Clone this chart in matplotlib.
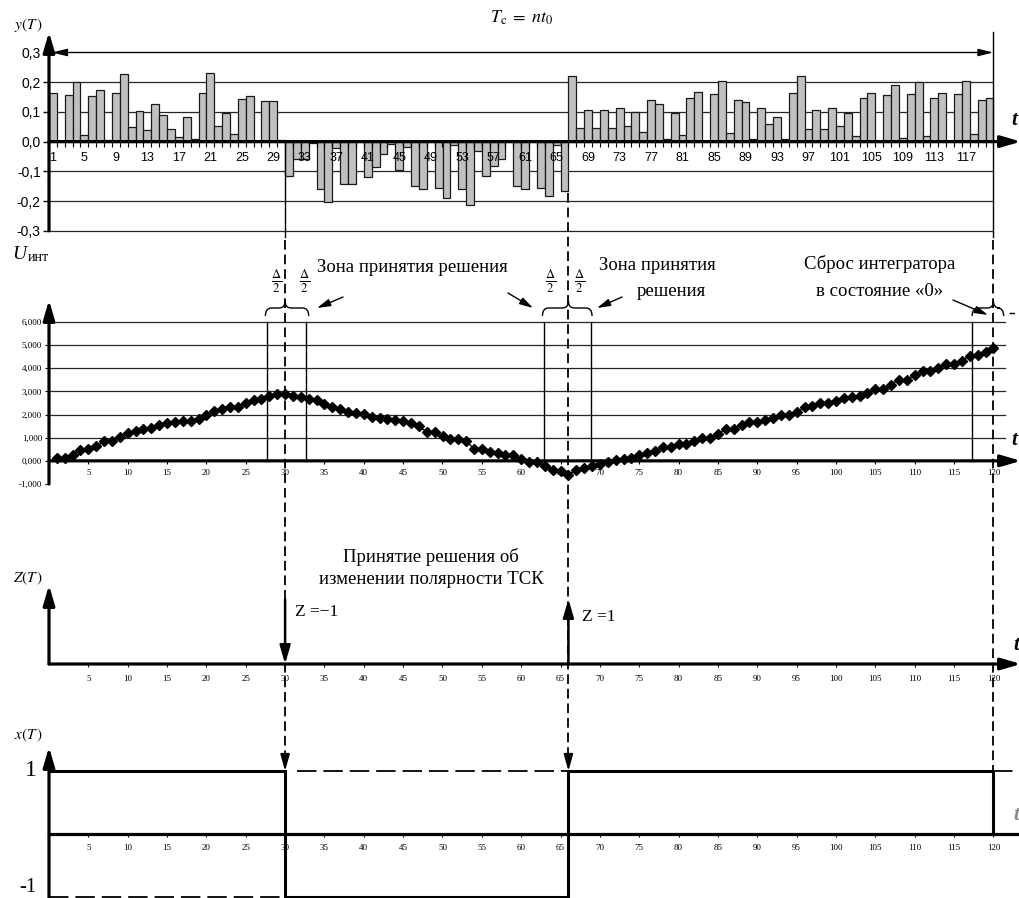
#!/usr/bin/env python3
import numpy as np
import matplotlib
matplotlib.use("Agg")
import matplotlib.pyplot as plt
from matplotlib.path import Path
from matplotlib.patches import PathPatch

W, H = 1019, 898
X0, X_SPAN = 49.0, 944.4          # left edge of the time axis and its length, px

# correlator output y(T) for each of the 120 chips
Y_VALUES = [
    0.165, 0.003, 0.158, 0.199, 0.022, 0.152, 0.173, 0.007, 0.165, 0.227,
    0.048, 0.102, 0.038, 0.127, 0.091, 0.041, 0.014, 0.084, 0.010, 0.165,
    0.231, 0.053, 0.095, 0.025, 0.142, 0.152, 0.002, 0.138, 0.138, 0.007,
    -0.115, -0.060, -0.060, -0.004, -0.161, -0.203, -0.023, -0.143, -0.143, -0.003,
    -0.120, -0.085, -0.043, -0.008, -0.094, -0.017, -0.148, -0.160, -0.003, -0.155,
    -0.189, -0.011, -0.161, -0.215, -0.033, -0.117, -0.083, -0.057, -0.003, -0.148,
    -0.159, -0.003, -0.155, -0.183, -0.011, -0.165, 0.220, 0.045, 0.108, 0.045,
    0.108, 0.045, 0.112, 0.053, 0.101, 0.031, 0.139, 0.127, 0.010, 0.095,
    0.022, 0.147, 0.166, 0.003, 0.161, 0.203, 0.028, 0.139, 0.133, 0.009,
    0.114, 0.060, 0.084, 0.008, 0.165, 0.220, 0.043, 0.107, 0.043, 0.112,
    0.052, 0.095, 0.020, 0.146, 0.165, 0.003, 0.157, 0.192, 0.012, 0.160,
    0.199, 0.020, 0.146, 0.165, 0.003, 0.160, 0.204, 0.025, 0.141, 0.146,
]
# integrator output U_int sampled at t = 1..120
U_VALUES = [
    0.12, 0.12, 0.27, 0.46, 0.52, 0.63, 0.86, 0.86, 1.02, 1.22,
    1.27, 1.37, 1.40, 1.55, 1.64, 1.70, 1.71, 1.74, 1.81, 1.96,
    2.15, 2.23, 2.33, 2.34, 2.49, 2.64, 2.66, 2.82, 2.91, 2.91,
    2.80, 2.76, 2.66, 2.62, 2.46, 2.33, 2.23, 2.10, 2.05, 2.02,
    1.90, 1.84, 1.80, 1.78, 1.74, 1.62, 1.49, 1.25, 1.25, 1.08,
    0.96, 0.96, 0.84, 0.53, 0.53, 0.37, 0.34, 0.27, 0.27, 0.06,
    -0.03, -0.03, -0.22, -0.40, -0.43, -0.60, -0.40, -0.32, -0.22, -0.13,
    -0.03, 0.02, 0.07, 0.12, 0.27, 0.34, 0.41, 0.60, 0.60, 0.71,
    0.75, 0.86, 1.00, 1.00, 1.15, 1.37, 1.37, 1.56, 1.70, 1.70,
    1.78, 1.84, 1.96, 1.96, 2.10, 2.33, 2.36, 2.48, 2.52, 2.60,
    2.70, 2.74, 2.82, 2.95, 3.10, 3.10, 3.29, 3.51, 3.51, 3.70,
    3.88, 3.88, 4.03, 4.17, 4.17, 4.32, 4.54, 4.59, 4.72, 4.87,
]
Y_TICKS = [0.3, 0.2, 0.1, 0.0, -0.1, -0.2, -0.3]
Y_TICK_LABELS = ["0,3", "0,2", "0,1", "0,0", "-0,1", "-0,2", "-0,3"]
Y_GRID = [0.2, 0.1, -0.1, -0.2, -0.3]
U_TICKS = [6, 5, 4, 3, 2, 1, 0, -1]
U_TICK_LABELS = ["6,000", "5,000", "4,000", "3,000", "2,000", "1,000", "0,000", "-1,000"]
CAT_LABELS = list(range(1, 118, 4))
T_LABELS = list(range(5, 121, 5))

DECISION_T = [30, 66]      # polarity change decisions
Z_VALUES = [-1, 1]
RESET_T = 120              # integrator reset
ZONE_LINES = [27.7, 32.6, 62.9, 68.9, 117.3]
BRACES = [(27.5, 30, 33.0), (62.7, 66, 69.0), (117.3, 120, 121.3)]
X_EDGES = [0, 30, 66, 120]
X_LEVELS = [1, -1, 1]

SANS = "Liberation Sans"
SERIF = "Liberation Serif"
plt.rcParams["font.family"] = SERIF
plt.rcParams["mathtext.fontset"] = "stix"
plt.rcParams["lines.scale_dashes"] = False

fig = plt.figure(figsize=(W / 100, H / 100), dpi=100)
fig.patch.set_facecolor("white")


def panel(top, bottom, ylim):
    ax = fig.add_axes([X0 / W, 1 - bottom / H, X_SPAN / W, (bottom - top) / H])
    ax.set_xlim(0, 120)
    ax.set_ylim(*ylim)
    ax.set_frame_on(False)
    ax.set_xticks([])
    ax.set_yticks([])
    return ax


ax_y = panel(52.5, 230.7, (-0.3, 0.3))
ax_u = panel(322.0, 484.0, (-1, 6))
ax_z = panel(599.0, 664.0, (0, 1))
ax_x = panel(771.0, 897.0, (-1, 1))

ov = fig.add_axes([0, 0, 1, 1])
ov.set_xlim(0, W)
ov.set_ylim(H, 0)
ov.set_axis_off()


def col(t):
    return ax_y.transData.transform((t, 0))[0]


def row(ax, v):
    return H - ax.transData.transform((0, v))[1]


def arrow(x0, y0, x1, y1, lw=1.0, hl=0.9, hw=0.28, ax=None):
    (ax or ov).annotate(
        "", xy=(x1, y1), xytext=(x0, y0), annotation_clip=False,
        arrowprops=dict(arrowstyle=f"-|>,head_length={hl},head_width={hw}",
                        lw=lw, color="k", shrinkA=0, shrinkB=0))


def brace(x0, xm, x1, y_end=316, y_mid=308, y_tip=301, q=6):
    verts = [(x0, y_end), (x0, y_mid), (x0 + q, y_mid), (xm - q, y_mid),
             (xm, y_mid), (xm, y_tip), (xm, y_mid), (xm + q, y_mid),
             (x1 - q, y_mid), (x1, y_mid), (x1, y_end)]
    codes = [Path.MOVETO, Path.CURVE3, Path.CURVE3, Path.LINETO,
             Path.CURVE3, Path.CURVE3, Path.CURVE3, Path.CURVE3,
             Path.LINETO, Path.CURVE3, Path.CURVE3]
    ov.add_patch(PathPatch(Path(verts, codes), fill=False, lw=1.0, color="k"))


GRID = dict(color="#262626", lw=0.9)
AXIS_LW = 2.3
VDASH = (0, (7, 3.5))
HDASH = (0, (14, 5))
NOTE = 13.5

# ---------------- y(T) bars ----------------
cats = np.arange(1, len(Y_VALUES) + 1)
for g in Y_GRID:
    ax_y.plot([0, 120], [g, g], zorder=1, clip_on=False, **GRID)
ax_y.bar(cats - 0.5, Y_VALUES, width=1.0, color="#c0c0c0", edgecolor="#1a1a1a",
         linewidth=0.9, zorder=2, clip_on=False)
ax_y.set_yticks(Y_TICKS, labels=Y_TICK_LABELS)
ax_y.tick_params(axis="y", length=4, width=1, pad=2, labelsize=10)
for lbl in ax_y.get_yticklabels():
    lbl.set_family(SANS)
for c in CAT_LABELS:
    ax_y.annotate(str(c), (c - 0.5, 0), xytext=(0, -10), textcoords="offset pixels",
                  ha="center", va="top", fontsize=9, family=SANS, zorder=5)

y0 = row(ax_y, 0)
ov.vlines([col(t) for t in range(0, 121)], y0, y0 + 5, color="k", lw=0.8)
arrow(col(0), row(ax_y, -0.3), col(0), 32, lw=AXIS_LW, hl=1.2, hw=0.35)
arrow(col(0), y0, W + 2, y0, lw=AXIS_LW, hl=1.2, hw=0.35)
ov.annotate("", xy=(col(0) + 3, row(ax_y, 0.3)), xytext=(col(RESET_T), row(ax_y, 0.3)),
            arrowprops=dict(arrowstyle="<|-|>,head_length=0.9,head_width=0.22",
                            lw=1.0, color="k", shrinkA=0, shrinkB=0))
ov.plot([col(RESET_T)] * 2, [32, 237], color="k", lw=1.0)
ov.text(col(60), 18, r"$T_{\mathrm{c}}\;=\;nt_0$", ha="center", va="center", fontsize=13)
ov.text(28, 25, r"$y(T\,)$", ha="center", va="center", fontsize=11)
ov.text(1011, 120, "t", ha="left", va="center", fontsize=15, style="italic", weight="bold")

# ---------------- integrator ----------------
for g in range(1, 7):
    ax_u.plot([0, 121.5], [g, g], zorder=1, clip_on=False, **GRID)
ax_u.set_yticks(U_TICKS, labels=U_TICK_LABELS)
ax_u.tick_params(axis="y", length=3, width=0.8, pad=2, labelsize=6.5)
for zl in ZONE_LINES:
    ax_u.plot([zl, zl], [0, 6], color="k", lw=1.0, zorder=2, clip_on=False)
ax_u.plot(np.arange(1, len(U_VALUES) + 1), U_VALUES, color="k", lw=1.0, marker="D",
          ms=4.6, zorder=4, clip_on=False)
u0 = row(ax_u, 0)
arrow(col(0), row(ax_u, -1), col(0), 300, lw=AXIS_LW, hl=1.2, hw=0.35)
arrow(col(0), u0, W + 2, u0, lw=AXIS_LW, hl=1.2, hw=0.35)
ov.vlines([col(t) for t in T_LABELS], u0, u0 + 3, color="k", lw=0.8)
for t in T_LABELS:
    ov.text(col(t), 473, str(t), ha="center", va="center", fontsize=6.5)
ov.text(12, 259, "U", ha="left", va="baseline", fontsize=14, style="italic")
ov.text(28, 261, "инт", ha="left", va="baseline", fontsize=10)
ov.text(1011, 440, "t", ha="left", va="center", fontsize=15, style="italic", weight="bold")

for b in BRACES:
    brace(col(b[0]), col(b[1]), col(b[2]))
ov.plot([col(BRACES[-1][2]) + 5, W], [313, 313], color="k", lw=1.0, ls=(0, (4, 4)))
for x in (277, 305, 551, 580):
    ov.text(x, 281, r"$\frac{\Delta}{2}$", ha="center", va="center", fontsize=13)
ov.text(317, 268, "Зона принятия решения", ha="left", va="center", fontsize=NOTE)
ov.text(657, 266, "Зона принятия", ha="center", va="center", fontsize=NOTE)
ov.text(671, 292, "решения", ha="center", va="center", fontsize=NOTE)
ov.text(880, 264, "Сброс интегратора", ha="center", va="center", fontsize=NOTE)
ov.text(880, 292, "в состояние «0»", ha="center", va="center", fontsize=NOTE)
arrow(343, 297, 317, 308, hl=0.8, hw=0.22)
arrow(508, 293, 533, 308, hl=0.8, hw=0.22)
arrow(622, 297, 597, 308, hl=0.8, hw=0.22)
arrow(953, 300, 988, 315, hl=0.8, hw=0.22)

# ---------------- decision impulses Z(T) ----------------
for t, z in zip(DECISION_T, Z_VALUES):
    tail = 0 if z > 0 else -z
    head = z if z > 0 else 0
    arrow(t, tail, t, head, lw=1.8, hl=1.1, hw=0.32, ax=ax_z)
    dx, lv = (14, 0.72) if z > 0 else (10, 0.8)
    ov.text(col(t) + dx, row(ax_z, lv), f"Z ={z}".replace("-", "−"),
            ha="left", va="center", fontsize=12.5)
z0 = row(ax_z, 0)
arrow(col(0), z0, col(0), 585, lw=AXIS_LW, hl=1.2, hw=0.35)
arrow(col(0), z0, W + 2, z0, lw=AXIS_LW, hl=1.2, hw=0.35)
ov.vlines([col(t) for t in T_LABELS], z0, z0 + 3, color="k", lw=0.8)
for t in T_LABELS:
    ov.text(col(t), 679, str(t), ha="center", va="center", fontsize=6.5)
ov.text(28, 578, r"$Z(T\,)$", ha="center", va="center", fontsize=11)
ov.text(1013, 645, "t", ha="left", va="center", fontsize=15, style="italic", weight="bold")
ov.text(431, 557, "Принятие решения об", ha="center", va="center", fontsize=NOTE)
ov.text(431, 580, "изменении полярности ТСК", ha="center", va="center", fontsize=NOTE)

# ---------------- restored signal x(T) ----------------
ax_x.stairs(X_LEVELS, X_EDGES, baseline=None, color="k", lw=2.2, clip_on=False, zorder=3)
ax_x.plot([X_EDGES[-1]] * 2, [X_LEVELS[-1], 0], color="k", lw=2.2, clip_on=False, zorder=3)
ax_x.plot([X_EDGES[0], X_EDGES[1]], [X_LEVELS[1]] * 2, color="k", lw=1.3,
          ls=HDASH, clip_on=False)
ax_x.plot([X_EDGES[1] + 1.5, X_EDGES[2]], [X_LEVELS[0]] * 2, color="k", lw=1.3,
          ls=HDASH, clip_on=False)
ax_x.plot([X_EDGES[-1], 123.5], [X_LEVELS[-1]] * 2, color="k", lw=1.3,
          ls=HDASH, clip_on=False)
x0r = row(ax_x, 0)
ax_x.plot([0, 123.5], [0, 0], color="k", lw=AXIS_LW, clip_on=False)
arrow(col(0), H + 2, col(0), 747, lw=AXIS_LW, hl=1.2, hw=0.35)
ov.vlines([col(t) for t in T_LABELS], x0r, x0r + 3, color="k", lw=0.8)
for t in T_LABELS:
    ov.text(col(t), 848, str(t), ha="center", va="center", fontsize=6.5)
ov.text(28, 735, r"$x(T\,)$", ha="center", va="center", fontsize=11)
ov.text(31, row(ax_x, 1), "1", ha="center", va="center", fontsize=17)
ov.text(28, row(ax_x, -1) - 9, "-1", ha="center", va="center", fontsize=15)
ov.text(1013, 815, "t", ha="left", va="center", fontsize=15, style="italic",
        weight="bold", color="#888888")

# ---------------- cross-panel decision markers ----------------
lvl1 = row(ax_x, 1)
for t in DECISION_T:
    if t == DECISION_T[0]:
        ov.plot([col(t)] * 2, [y0, 237], color="k", lw=1.0)
        top = 240
    else:
        top = row(ax_y, Y_VALUES[t - 1]) + 2
    ov.plot([col(t)] * 2, [top, lvl1 - 14], color="k", lw=1.3, ls=VDASH)
    arrow(col(t), lvl1 - 16, col(t), lvl1, lw=1.3, hl=1.0, hw=0.28)
ov.plot([col(RESET_T)] * 2, [240, lvl1], color="k", lw=1.3, ls=VDASH)

fig.savefig("out.png", dpi=100, facecolor="white")
